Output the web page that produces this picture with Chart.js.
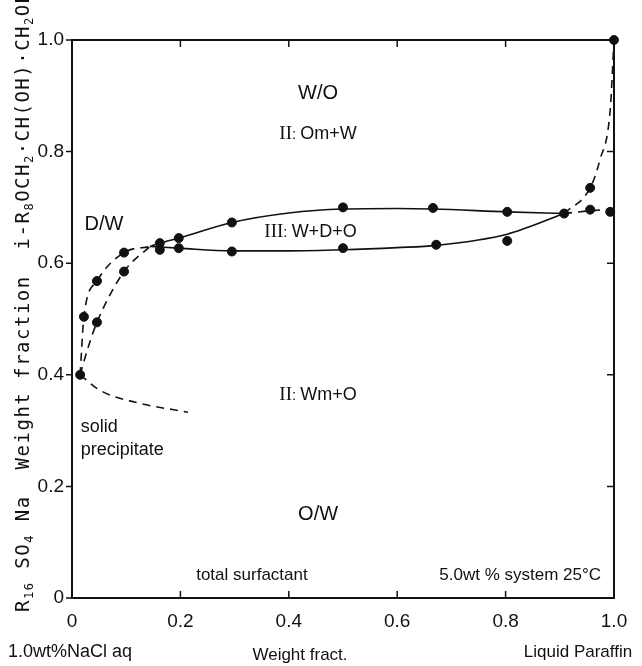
<!DOCTYPE html>
<html>
<head>
<meta charset="utf-8">
<script src="https://cdn.jsdelivr.net/npm/chart.js@4.4.1/dist/chart.umd.min.js"></script>
<style>
  html, body { margin: 0; padding: 0; background: #fff; }
  #wrap { width: 642px; height: 666px; }
</style>
</head>
<body>
<div id="wrap"><canvas id="phaseChart" width="642" height="666"></canvas></div>
<script>
// --- data ---
const axisTicks = [0, 0.2, 0.4, 0.6, 0.8, 1.0];

// measured compositions (dots)
const pointX = [0.015, 0.022, 0.046, 0.046, 0.096, 0.096, 0.162, 0.162, 0.197, 0.197,
                0.295, 0.295, 0.500, 0.500, 0.666, 0.672, 0.803, 0.803, 0.908, 0.956,
                0.956, 0.993, 1.0];
const pointY = [0.400, 0.504, 0.568, 0.494, 0.619, 0.585, 0.636, 0.624, 0.645, 0.627,
                0.673, 0.621, 0.700, 0.627, 0.699, 0.633, 0.692, 0.640, 0.689, 0.735,
                0.696, 0.692, 1.0];

// phase boundaries
const upperSolidX = [0.144, 0.162, 0.197, 0.295, 0.40, 0.50, 0.60, 0.666, 0.803, 0.908];
const upperSolidY = [0.630, 0.636, 0.645, 0.673, 0.690, 0.697, 0.698, 0.697, 0.692, 0.689];
const lowerSolidX = [0.144, 0.197, 0.295, 0.40, 0.50, 0.60, 0.672, 0.803, 0.908];
const lowerSolidY = [0.630, 0.627, 0.622, 0.622, 0.624, 0.628, 0.632, 0.652, 0.689];
const upperDashX = [0.015, 0.022, 0.046, 0.096, 0.144];
const upperDashY = [0.400, 0.504, 0.568, 0.619, 0.630];
const lowerDashX = [0.015, 0.030, 0.046, 0.096, 0.144];
const lowerDashY = [0.400, 0.450, 0.494, 0.585, 0.630];
const precipDashX = [0.015, 0.052, 0.120, 0.214];
const precipDashY = [0.400, 0.372, 0.350, 0.333];
const rightUpDashX = [0.908, 0.956, 0.974, 0.993, 1.0];
const rightUpDashY = [0.689, 0.735, 0.785, 0.875, 1.0];
const rightFlatDashX = [0.908, 0.956, 1.0];
const rightFlatDashY = [0.689, 0.694, 0.697];

const SANS = '"Liberation Sans", Arial, sans-serif';
const SERIF = '"Liberation Serif", serif';
const MONO = '"DejaVu Sans Mono", monospace';

function pairs(xs, ys) {
  return xs.map((x, i) => ({ x: x, y: ys[i] }));
}

function curve(xs, ys, dashed) {
  return {
    type: 'line',
    data: pairs(xs, ys),
    showLine: true,
    borderColor: '#111',
    borderWidth: 1.6,
    borderDash: dashed ? [8, 6] : [],
    pointRadius: 0,
    fill: false,
    cubicInterpolationMode: 'monotone'
  };
}

// draw a run of [text, font, dy] pieces starting at (x, y)
function drawRuns(ctx, runs, x, y, align) {
  let total = 0;
  runs.forEach(r => { ctx.font = r[1]; total += ctx.measureText(r[0]).width; });
  let cx = align === 'center' ? x - total / 2 : x;
  ctx.textAlign = 'left';
  ctx.textBaseline = 'alphabetic';
  runs.forEach(r => {
    ctx.font = r[1];
    ctx.fillText(r[0], cx, y + (r[2] || 0));
    cx += ctx.measureText(r[0]).width;
  });
}

// --- frame, inward ticks, labels ---
const decorPlugin = {
  id: 'decor',
  afterDraw(chart) {
    const ctx = chart.ctx;
    const a = chart.chartArea;
    const xs = chart.scales.x, ys = chart.scales.y;
    ctx.save();
    ctx.strokeStyle = '#111';
    ctx.fillStyle = '#111';
    ctx.lineWidth = 2;
    ctx.strokeRect(a.left, a.top, a.right - a.left, a.bottom - a.top);

    ctx.lineWidth = 1.5;
    ctx.beginPath();
    axisTicks.forEach(t => {
      const px = xs.getPixelForValue(t);
      const py = ys.getPixelForValue(t);
      ctx.moveTo(px, a.bottom); ctx.lineTo(px, a.bottom - 7);
      ctx.moveTo(px, a.top); ctx.lineTo(px, a.top + 7);
      ctx.moveTo(a.left, py); ctx.lineTo(a.left - 6, py);
      ctx.moveTo(a.right, py); ctx.lineTo(a.right - 7, py);
    });
    ctx.stroke();

    const P = (x, y) => [xs.getPixelForValue(x), ys.getPixelForValue(y)];
    const f = s => s + 'px ' + SANS;
    const r = s => s + 'px ' + SERIF;
    let p;

    p = P(0.454, 0.895); drawRuns(ctx, [['W/O', f(20)]], p[0], p[1], 'center');
    p = P(0.454, 0.822); drawRuns(ctx, [['II', r(19)], [': ', f(15)], ['Om+W', f(18)]], p[0], p[1], 'center');
    p = P(0.059, 0.660); drawRuns(ctx, [['D/W', f(20)]], p[0], p[1], 'center');
    p = P(0.440, 0.647); drawRuns(ctx, [['III', r(19)], [': ', f(15)], ['W+D+O', f(18)]], p[0], p[1], 'center');
    p = P(0.454, 0.355); drawRuns(ctx, [['II', r(19)], [': ', f(15)], ['Wm+O', f(18)]], p[0], p[1], 'center');
    p = P(0.016, 0.297); drawRuns(ctx, [['solid', f(18)]], p[0], p[1], 'left');
    p = P(0.016, 0.257); drawRuns(ctx, [['precipitate', f(18)]], p[0], p[1], 'left');
    p = P(0.454, 0.140); drawRuns(ctx, [['O/W', f(20)]], p[0], p[1], 'center');
    p = P(0.332, 0.032); drawRuns(ctx, [['total surfactant', f(17)]], p[0], p[1], 'center');
    p = P(0.827, 0.032); drawRuns(ctx, [['5.0wt % system 25°C', f(17)]], p[0], p[1], 'center');

    // composition labels under the axis
    drawRuns(ctx, [['1.0wt%NaCl aq', f(18)]], 8, 657, 'left');
    drawRuns(ctx, [['Weight fract.', f(17)]], 300, 660, 'center');
    drawRuns(ctx, [['Liquid Paraffin', f(17)]], 578, 657, 'center');

    // rotated y-axis title with subscripts
    ctx.translate(29, 612);
    ctx.rotate(-Math.PI / 2);
    ctx.letterSpacing = '1.5px';
    const m = s => s + 'px ' + MONO;
    drawRuns(ctx, [
      ['R', m(19)], ['16', m(12), 4], [' SO', m(19)], ['4', m(12), 4], [' Na  Weight fraction  i-R', m(19)],
      ['8', m(12), 4], ['OCH', m(19)], ['2', m(12), 4], ['·CH(OH)·CH', m(19)], ['2', m(12), 4], ['OH', m(19)]
    ], 0, 0, 'left');
    ctx.restore();
  }
};

const ctx = document.getElementById('phaseChart').getContext('2d');
new Chart(ctx, {
  type: 'scatter',
  data: {
    datasets: [
      {
        label: 'measured',
        data: pairs(pointX, pointY),
        backgroundColor: '#111',
        borderColor: '#111',
        pointRadius: 4.5,
        showLine: false,
        clip: false
      },
      curve(upperSolidX, upperSolidY, false),
      curve(lowerSolidX, lowerSolidY, false),
      curve(upperDashX, upperDashY, true),
      curve(lowerDashX, lowerDashY, true),
      curve(precipDashX, precipDashY, true),
      curve(rightUpDashX, rightUpDashY, true),
      curve(rightFlatDashX, rightFlatDashY, true)
    ]
  },
  options: {
    responsive: false,
    animation: false,
    layout: { padding: { top: 40, right: 28, left: 0, bottom: 0 } },
    plugins: {
      legend: { display: false },
      tooltip: { enabled: false }
    },
    scales: {
      x: {
        type: 'linear',
        min: 0,
        max: 1,
        afterBuildTicks: s => { s.ticks = axisTicks.map(v => ({ value: v })); },
        afterFit: s => { s.height = 68; },
        border: { display: false },
        grid: { display: true, drawOnChartArea: false, drawTicks: false },
        ticks: {
          color: '#111',
          padding: 12,
          maxRotation: 0,
          font: { family: SANS, size: 19 },
          callback: v => v === 0 ? '0' : v.toFixed(1)
        }
      },
      y: {
        type: 'linear',
        min: 0,
        max: 1,
        afterBuildTicks: s => { s.ticks = axisTicks.map(v => ({ value: v })); },
        afterFit: s => { s.width = 72; },
        border: { display: false },
        grid: { display: true, drawOnChartArea: false, drawTicks: false },
        ticks: {
          color: '#111',
          padding: 8,
          font: { family: SANS, size: 19 },
          callback: v => v === 0 ? '0' : v.toFixed(1)
        }
      }
    }
  },
  plugins: [decorPlugin]
});
</script>
</body>
</html>
